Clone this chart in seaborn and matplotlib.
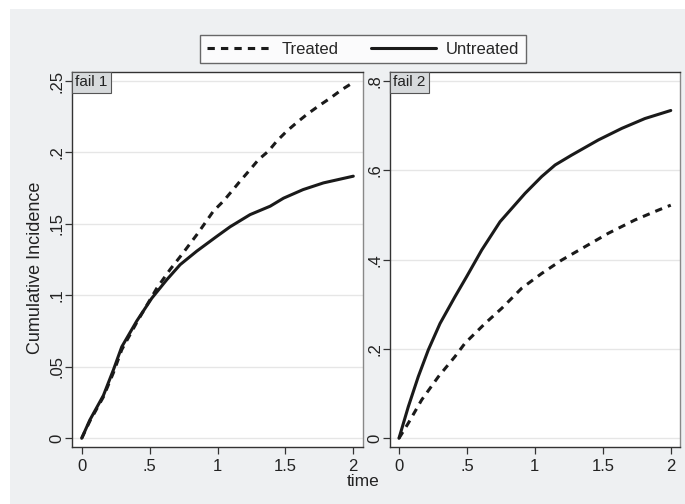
import numpy as np
import pandas as pd
import seaborn as sns
import matplotlib.pyplot as plt
from matplotlib.lines import Line2D
from matplotlib.patches import Rectangle
from matplotlib.ticker import FixedLocator, FixedFormatter

# cumulative incidence, fail 1
t1_untreated = [0, 0.06, 0.16, 0.234, 0.295, 0.405, 0.516, 0.627, 0.725, 0.848, 0.995,
                1.093, 1.24, 1.388, 1.486, 1.63, 1.78, 2.0]
ci1_untreated = [0, 0.0128, 0.030, 0.048, 0.064, 0.082, 0.098, 0.111, 0.1215, 0.131, 0.1413,
                 0.148, 0.1565, 0.1624, 0.168, 0.174, 0.1787, 0.1834]
t1_treated = [0, 0.06, 0.16, 0.234, 0.295, 0.405, 0.553, 0.65, 0.737, 0.848, 0.909, 0.97,
              1.044, 1.106, 1.167, 1.24, 1.302, 1.376, 1.437, 1.511, 1.585, 1.658, 1.744,
              1.83, 1.916, 2.0]
ci1_treated = [0, 0.012, 0.029, 0.046, 0.062, 0.081, 0.105, 0.118, 0.1285, 0.1425, 0.1507, 0.159,
               0.166, 0.173, 0.180, 0.188, 0.195, 0.201, 0.208, 0.215, 0.221, 0.2266, 0.2325,
               0.238, 0.244, 0.249]

# fail 2
t2_untreated = [0, 0.069, 0.142, 0.216, 0.302, 0.412, 0.498, 0.609, 0.744, 0.928, 1.05,
                1.149, 1.27, 1.467, 1.64, 1.81, 2.0]
ci2_untreated = [0, 0.071, 0.138, 0.198, 0.257, 0.317, 0.362, 0.4216, 0.485, 0.5485, 0.586,
                 0.612, 0.634, 0.668, 0.694, 0.716, 0.734]
t2_treated = [0, 0.069, 0.167, 0.29, 0.412, 0.486, 0.633, 0.756, 0.903, 1.05, 1.197, 1.369,
              1.54, 1.737, 1.909, 2.0]
ci2_treated = [0, 0.034, 0.086, 0.138, 0.183, 0.213, 0.257, 0.291, 0.336, 0.369, 0.399, 0.429,
               0.459, 0.489, 0.511, 0.522]

groups = ['Treated', 'Untreated']
panels = ['fail 1', 'fail 2']
xticks = [0, 0.5, 1, 1.5, 2]
xticklabels = ['0', '.5', '1', '1.5', '2']
yticks1 = [0, 0.05, 0.1, 0.15, 0.2, 0.25]
yticklabels1 = ['0', '.05', '.1', '.15', '.2', '.25']
yticks2 = [0, 0.2, 0.4, 0.6, 0.8]
yticklabels2 = ['0', '.2', '.4', '.6', '.8']

rows = []
for panel, series in zip(panels, [((t1_treated, ci1_treated), (t1_untreated, ci1_untreated)),
                                  ((t2_treated, ci2_treated), (t2_untreated, ci2_untreated))]):
    for g, (tt, cc) in zip(groups, series):
        for a, b in zip(tt, cc):
            rows.append({'panel': panel, 'group': g, 'time': a, 'ci': b})
df = pd.DataFrame(rows)

sns.set_style('white')
plt.rcParams['font.family'] = ['Liberation Sans', 'DejaVu Sans']

ink = '#1a1a1a'
txt = '#222222'
grey_bg = '#eef0f2'
dash = (2.4, 2.0)

fig = plt.figure(figsize=(6.85, 5.04), dpi=100)
fig.patch.set_facecolor('white')
fig.patches.append(Rectangle((10 / 685, 0), 1 - 10 / 685, 1 - 9 / 504,
                             transform=fig.transFigure, facecolor=grey_bg,
                             edgecolor='none', zorder=-10))

ax1 = fig.add_axes([72 / 685, 1 - 447 / 504, (363 - 72) / 685, 375 / 504])
ax2 = fig.add_axes([390 / 685, 1 - 447 / 504, (680 - 390) / 685, 375 / 504])

specs = [(ax1, 'fail 1', yticks1, yticklabels1, (-0.0061, 0.2563), (-0.0714, 2.0714)),
         (ax2, 'fail 2', yticks2, yticklabels2, (-0.0195, 0.8202), (-0.066, 2.068))]

for ax, panel, yt, ytl, ylim, xlim in specs:
    ax.set_facecolor('white')
    sub = df[df['panel'] == panel]
    sns.lineplot(data=sub, x='time', y='ci', style='group', style_order=groups,
                 dashes={'Treated': dash, 'Untreated': ''}, color=ink, lw=2.2,
                 estimator=None, sort=True, legend=False, ax=ax)
    ax.set_xlim(*xlim)
    ax.set_ylim(*ylim)
    ax.yaxis.set_major_locator(FixedLocator(yt))
    ax.yaxis.set_major_formatter(FixedFormatter(ytl))
    ax.xaxis.set_major_locator(FixedLocator(xticks))
    ax.xaxis.set_major_formatter(FixedFormatter(xticklabels))
    ax.grid(axis='y', color='#e6e6e6', lw=1)
    ax.set_axisbelow(True)
    ax.tick_params(axis='both', direction='out', length=5, width=0.9, color='#333333',
                   labelsize=12, labelcolor=txt, left=True, bottom=True)
    ax.tick_params(axis='y', pad=0.5)
    for lab in ax.get_yticklabels():
        lab.set_rotation(90)
        lab.set_va('center')
    for s in ['left', 'bottom', 'top']:
        ax.spines[s].set_color('#333333')
        ax.spines[s].set_linewidth(1)
    ax.spines['right'].set_color('#888888')
    ax.spines['right'].set_linewidth(1)
    ax.set_xlabel('')
    ax.set_ylabel('')
    ax.annotate(panel, xy=(0, 1), xycoords='axes fraction', xytext=(2.5, -2.5),
                textcoords='offset points', ha='left', va='top', fontsize=11, color=txt,
                bbox=dict(boxstyle='square,pad=0.22', fc='#d7dadc', ec='#555555', lw=0.8))

ax1.set_ylabel('Cumulative Incidence', fontsize=13, color=txt)
ax1.yaxis.set_label_coords((44 - 72) / 291, (447 - 268) / 375)
fig.text(363 / 685, 1 - 482 / 504, 'time', ha='center', va='center', fontsize=12.5,
         color=txt)

handles = [Line2D([], [], color=ink, lw=2.2, dashes=dash),
           Line2D([], [], color=ink, lw=2.2)]
leg = fig.legend(handles, groups, loc='center', bbox_to_anchor=(363 / 685, 1 - 49 / 504),
                 ncol=2, fontsize=12, frameon=True, fancybox=False, handlelength=3.9,
                 handletextpad=0.6, columnspacing=1.9, borderpad=0.4)
leg.get_frame().set_edgecolor('#444444')
leg.get_frame().set_linewidth(1)
leg.get_frame().set_facecolor('white')

fig.savefig('out.png', dpi=100)
